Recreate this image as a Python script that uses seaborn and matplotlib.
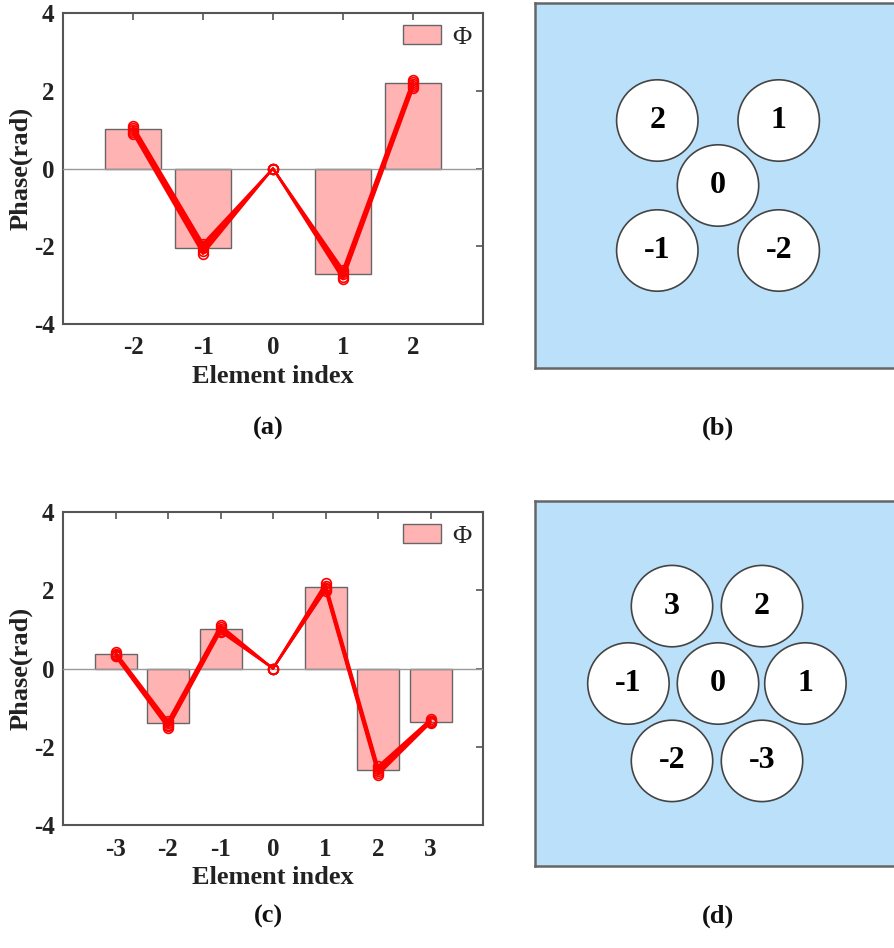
import numpy as np
import pandas as pd
import matplotlib
matplotlib.use("Agg")
import matplotlib.pyplot as plt
from matplotlib.patches import Patch, Circle
import seaborn as sns

# ---------------- data ----------------
idx_a = [-2, -1, 1, 2]
bar_a = [1.02, -2.05, -2.71, 2.19]
line_idx_a = [-2, -1, 0, 1, 2]
lines_a = [
    [1.10, -1.93, 0.0, -2.60, 2.28],
    [1.05, -1.99, 0.0, -2.66, 2.23],
    [1.00, -2.05, 0.0, -2.72, 2.18],
    [0.95, -2.12, 0.0, -2.78, 2.12],
    [0.90, -2.20, 0.0, -2.85, 2.06],
]

idx_c = [-3, -2, -1, 1, 2, 3]
bar_c = [0.38, -1.40, 1.02, 2.08, -2.60, -1.36]
line_idx_c = [-3, -2, -1, 0, 1, 2, 3]
lines_c = [
    [0.42, -1.34, 1.10, 0.0, 2.18, -2.50, -1.30],
    [0.38, -1.39, 1.05, 0.0, 2.12, -2.56, -1.33],
    [0.35, -1.44, 1.00, 0.0, 2.06, -2.62, -1.35],
    [0.33, -1.48, 0.97, 0.0, 2.02, -2.67, -1.37],
    [0.31, -1.52, 0.94, 0.0, 1.99, -2.72, -1.39],
]

# element layouts (panel b and d)
labels_b = ["2", "1", "0", "-1", "-2"]
cx_b = [-60.7, 60.7, 0.0, -60.7, 60.7]
cy_b = [65.0, 65.0, 0.0, -65.0, -65.0]

labels_d = ["3", "2", "-1", "0", "1", "-2", "-3"]
cx_d = [-46.0, 44.0, -89.6, 0.0, 87.4, -46.0, 44.0]
cy_d = [77.4, 77.4, 0.0, 0.0, 0.0, -77.4, -77.4]
radius = 40.7

# ---------------- style ----------------
sns.set_theme(style="white")
plt.rcParams["font.family"] = ["Liberation Serif", "DejaVu Serif"]
plt.rcParams["font.weight"] = "bold"

W, H = 895, 948
fig = plt.figure(figsize=(W / 100, H / 100), dpi=100)


def fax(l, t, r, b):
    return fig.add_axes([l / W, 1 - b / H, (r - l) / W, (b - t) / H])


BAR_COL = "#FFB3B3"
EDGE = "#666666"
SPINE = "#555555"
TXT = "#222222"


def phase_panel(ax, idx, bars, lidx, lines, xlim):
    dfb = pd.DataFrame({"idx": idx, "phase": bars})
    sns.barplot(data=dfb, x="idx", y="phase", native_scale=True, color=BAR_COL,
                saturation=1, width=0.8, edgecolor=EDGE, linewidth=1.0, ax=ax, zorder=2)
    ax.axhline(0, color="#999999", lw=1.0, zorder=3)
    rows = []
    for k, ln in enumerate(lines):
        for xi, yi in zip(lidx, ln):
            rows.append({"run": k, "idx": xi, "phase": yi})
    dfl = pd.DataFrame(rows)
    sns.lineplot(data=dfl, x="idx", y="phase", units="run", estimator=None,
                 color="red", lw=1.6, marker="o", markersize=7,
                 markerfacecolor="none", markeredgecolor="red", markeredgewidth=1.2,
                 ax=ax, legend=False, zorder=4)
    ax.set_xlim(*xlim)
    ax.set_ylim(-4, 4)
    ax.set_xticks(lidx)
    ax.set_xticklabels([str(v) for v in lidx])
    ax.set_yticks([-4, -2, 0, 2, 4])
    ax.set_yticklabels(["-4", "-2", "0", "2", "4"])
    ax.tick_params(direction="in", top=True, right=True, length=5, width=1.2,
                   color=SPINE, labelsize=18)
    ax.tick_params(axis="x", pad=9)
    ax.tick_params(axis="y", pad=6)
    for lab in ax.get_xticklabels() + ax.get_yticklabels():
        lab.set_fontweight("bold")
        lab.set_color(TXT)
    for s in ax.spines.values():
        s.set_color(SPINE)
        s.set_linewidth(1.5)
        s.set_visible(True)
    ax.set_xlabel("Element index", fontsize=19, fontweight="bold", color=TXT, labelpad=4)
    ax.set_ylabel("Phase(rad)", fontsize=19, fontweight="bold", color=TXT, labelpad=1)
    ax.legend(handles=[Patch(facecolor=BAR_COL, edgecolor=EDGE, linewidth=1.0)],
              labels=["\u03a6"], loc="upper right", frameon=False,
              handlelength=1.45, handleheight=0.72, handletextpad=0.4,
              borderaxespad=0.15, borderpad=0.3,
              prop={"family": "Liberation Serif", "size": 19, "weight": "normal"})
    ax.set_facecolor("white")


def layout_panel(ax, labels, cx, cy, ylim_half):
    ax.set_facecolor("#BBE1FA")
    ax.set_xlim(-183, 177)
    ax.set_ylim(-ylim_half, ylim_half)
    ax.set_aspect("equal", adjustable="box")
    for lab, x, y in zip(labels, cx, cy):
        ax.add_patch(Circle((x, y), radius, facecolor="white", edgecolor="#444444", lw=1.2))
        ax.text(x, y, lab, ha="center", va="center", fontsize=23, fontweight="bold",
                color="black")
    ax.set_xticks([])
    ax.set_yticks([])
    for s in ax.spines.values():
        s.set_color("#666666")
        s.set_linewidth(1.8)
    ax.spines["right"].set_visible(False)


ax_a = fax(63, 13, 483, 324)
phase_panel(ax_a, idx_a, bar_a, line_idx_a, lines_a, (-3, 3))
ax_c = fax(63, 512, 483, 825)
phase_panel(ax_c, idx_c, bar_c, line_idx_c, lines_c, (-4, 4))

ax_b = fax(535, 3, 895, 368)
layout_panel(ax_b, labels_b, cx_b, cy_b, 182.5)
ax_d = fax(535, 501, 895, 866)
layout_panel(ax_d, labels_d, cx_d, cy_d, 182.5)

for txt, x, y in [("(a)", 268, 428), ("(b)", 718, 428), ("(c)", 268, 916), ("(d)", 718, 916)]:
    fig.text(x / W, 1 - y / H, txt, ha="center", va="center", fontsize=19,
             fontweight="bold", color="#111111")

fig.savefig("out.png", dpi=100)
